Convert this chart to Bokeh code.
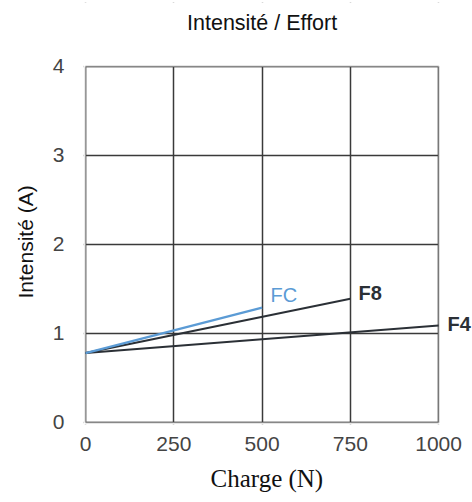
from bokeh.plotting import figure
from bokeh.models import Range1d, Label, FixedTicker, BoxAnnotation, Title
from bokeh.embed import file_html
from bokeh.resources import INLINE

# Data
charge_fc = [0, 500]
int_fc = [0.78, 1.29]
charge_f8 = [0, 750]
int_f8 = [0.78, 1.39]
charge_f4 = [0, 1000]
int_f4 = [0.78, 1.09]

x_ticks = [0, 250, 500, 750, 1000]
y_ticks = [0, 1, 2, 3, 4]

series_names = ["FC", "F8", "F4"]
label_x = [524, 773, 1025]
label_y = [1.43, 1.45, 1.11]
label_colors = ["#5b9bd5", "#2b3036", "#2b3036"]
label_weights = ["normal", "bold", "bold"]

chart_title = "Intensité / Effort"
x_title = "Charge (N)"
y_title = "Intensité (A)"

x_max = x_ticks[-1]
y_max = y_ticks[-1]

p = figure(width=472, height=502, output_backend="svg", toolbar_location=None,
           x_range=Range1d(-6, 1096), y_range=Range1d(-0.0225, 4.719),
           min_border_left=83, min_border_right=0, min_border_top=2,
           min_border_bottom=78)

p.title.text = ""
p.outline_line_color = None
p.background_fill_color = "white"
p.border_fill_color = "white"

for ax in (p.xaxis[0], p.yaxis[0]):
    ax.axis_line_color = None
    ax.major_tick_line_color = None
    ax.minor_tick_line_color = None
    ax.major_tick_out = 0
    ax.major_tick_in = 0
    ax.minor_tick_out = 0
    ax.major_label_text_font = "Liberation Sans"
    ax.major_label_text_font_size = "21px"
    ax.major_label_text_color = "#444444"

p.xaxis.ticker = FixedTicker(ticks=x_ticks)
p.yaxis.ticker = FixedTicker(ticks=y_ticks)
p.xaxis.major_label_standoff = 12
p.yaxis.major_label_standoff = 19

# axis titles placed as side titles for exact positioning
p.add_layout(Title(text=x_title, align="left", offset=127, standoff=19,
                   vertical_align="bottom",
                   text_font="Liberation Serif", text_font_size="25px",
                   text_font_style="normal", text_color="#111111"), "below")
p.add_layout(Title(text=y_title, align="left", offset=126, standoff=22,
                   vertical_align="top",
                   text_font="Liberation Sans", text_font_size="21px",
                   text_font_style="normal", text_color="#111111"), "left")

p.xgrid.ticker = FixedTicker(ticks=x_ticks)
p.ygrid.ticker = FixedTicker(ticks=y_ticks)
p.grid.grid_line_color = "#3a3a3a"
p.grid.grid_line_width = 1.5
p.grid.grid_line_alpha = 1.0

# cover grid outside the chart box, then draw the chart frame
for kw in (dict(left=x_max), dict(right=0), dict(top=0), dict(bottom=y_max)):
    p.add_layout(BoxAnnotation(fill_color="white", fill_alpha=1.0,
                               line_color=None, level="underlay", **kw))
p.add_layout(BoxAnnotation(left=0, right=x_max, bottom=0, top=y_max,
                           fill_alpha=0, line_color="#555555", line_width=2,
                           level="underlay"))

p.line(charge_f4, int_f4, line_color="#2b3036", line_width=2)
p.line(charge_f8, int_f8, line_color="#2b3036", line_width=2)
p.line(charge_fc, int_fc, line_color="#5b9bd5", line_width=2.2)

for name, lx, ly, c, w in zip(series_names, label_x, label_y, label_colors, label_weights):
    p.add_layout(Label(x=lx, y=ly, text=name, text_color=c, text_font="Liberation Sans",
                       text_font_size="20px", text_font_style=w,
                       text_baseline="middle", text_align="left"))

# chart title above the box
p.add_layout(Label(x=x_max / 2, y=y_max + 0.49, text=chart_title, text_color="#111111",
                   text_font="Liberation Sans", text_font_size="21.5px",
                   text_baseline="middle", text_align="center"))

open("out.html", "w").write(file_html(p, INLINE))
